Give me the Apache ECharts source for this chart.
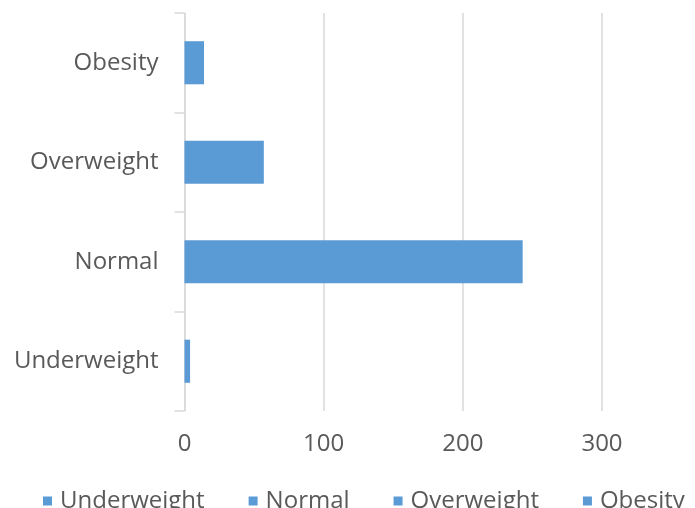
<!DOCTYPE html>
<html>
<head>
<meta charset="utf-8">
<script src="https://cdn.jsdelivr.net/npm/echarts@6/dist/echarts.min.js"></script>
<style>
  html, body { margin: 0; padding: 0; background: #fff; }
  #chart { width: 695px; height: 508px; }
</style>
</head>
<body>
<div id="chart"></div>
<script>
// BMI groups, bottom to top on the category axis
const categories = ['Underweight', 'Normal', 'Overweight', 'Obesity'];
const counts = [4, 243, 57, 14];
const xTicks = [0, 100, 200, 300];

const barColor = '#5b9bd5';
const textColor = '#595959';
const fontFamily = '"Open Sans", "Noto Sans", sans-serif';
const fontSize = 24;

// One stacked series per group so each gets its own legend entry
const series = categories.map((name, i) => ({
  name: name,
  type: 'bar',
  stack: 'all',
  barCategoryGap: '56.7%',
  itemStyle: { color: barColor },
  data: categories.map((c, j) => (j === i ? counts[i] : '-'))
}));

const chart = echarts.init(document.getElementById('chart'), null, { renderer: 'canvas' });
chart.setOption({
  animation: false,
  backgroundColor: '#ffffff',
  color: [barColor],
  grid: { left: 184.5, right: 93, top: 13, bottom: 97, containLabel: false },
  legend: {
    left: 38,
    top: 484,
    width: 900,
    icon: 'rect',
    itemWidth: 9,
    itemHeight: 9,
    itemGap: 44,
    data: categories,
    textStyle: { color: textColor, fontSize: fontSize, fontFamily: fontFamily, padding: [0, 0, 0, 3] }
  },
  xAxis: {
    type: 'value',
    min: xTicks[0],
    max: xTicks[xTicks.length - 1],
    interval: xTicks[1] - xTicks[0],
    axisLine: { show: false },
    axisTick: { show: false },
    axisLabel: { color: textColor, fontSize: fontSize, fontFamily: fontFamily, margin: 21 },
    splitLine: { show: true, lineStyle: { color: '#d9d9d9', width: 1.5 } }
  },
  yAxis: {
    type: 'category',
    data: categories,
    axisLine: { show: true, lineStyle: { color: '#d9d9d9', width: 1.5 } },
    axisTick: { show: true, length: 10, lineStyle: { color: '#d9d9d9', width: 1.5 } },
    axisLabel: { color: textColor, fontSize: fontSize, fontFamily: fontFamily, margin: 26 }
  },
  series: series
});
</script>
</body>
</html>
